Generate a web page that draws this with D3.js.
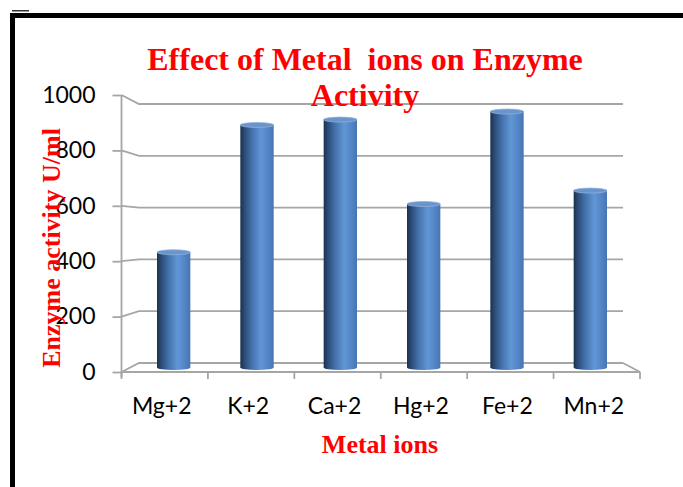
<!DOCTYPE html>
<html>
<head>
<meta charset="utf-8">
<script src="https://cdn.jsdelivr.net/npm/d3@7/dist/d3.min.js"></script>
<style>
  html, body { margin: 0; padding: 0; background: #fff; }
  svg { display: block; }
  text { white-space: pre; }
</style>
</head>
<body>
<div id="chart"></div>
<script>
// Enzyme activity (U/ml) measured with each metal ion
const categories = ["Mg+2", "K+2", "Ca+2", "Hg+2", "Fe+2", "Mn+2"];
const activity = [430, 905, 925, 610, 955, 660];
const yTicks = [0, 200, 400, 600, 800, 1000];
const titleLines = ["Effect of Metal  ions on Enzyme", "Activity"];
const yTitle = "Enzyme activity U/ml";
const xTitle = "Metal ions";

const W = 683, H = 487;
const svg = d3.select("#chart").append("svg")
  .attr("width", W).attr("height", H);

// Frame around the chart area
svg.append("rect").attr("x", 10).attr("y", 13).attr("width", 5).attr("height", H - 13).attr("fill", "#000");
svg.append("rect").attr("x", 10).attr("y", 13).attr("width", W - 10).attr("height", 5).attr("fill", "#000");
svg.append("rect").attr("x", 12).attr("y", 10).attr("width", 17).attr("height", 1.5).attr("fill", "#333");

// 3-D projection: front plane, back wall and the bar's middle depth
const yFront = d3.scaleLinear().domain([0, 1000]).range([372, 95]);
const yBack  = d3.scaleLinear().domain([0, 1000]).range([363, 104]);
const yMid   = d3.scaleLinear().domain([0, 1000]).range([367.5, 99.5]);
const xFront = d3.scaleBand().domain(categories).range([121.5, 640]);
const xBack  = d3.scaleBand().domain(categories).range([139, 623]);
const xMid   = d3.scaleBand().domain(categories).range([132, 632])
  .paddingInner(0.6).paddingOuter(0.3);

const grid = svg.append("g").attr("fill", "none").attr("stroke", "#a6a6a6").attr("stroke-width", 1.8);

// Gridlines: side wall diagonal, then along the back wall
yTicks.forEach(v => {
  grid.append("path").attr("d",
    `M${xFront.range()[0]},${yFront(v)} L${xBack.range()[0]},${yBack(v)} L${xBack.range()[1]},${yBack(v)}`);
});
// Floor front edge and right diagonal
grid.append("path").attr("d",
  `M${xFront.range()[0]},${yFront(0)} L${xFront.range()[1]},${yFront(0)} L${xBack.range()[1]},${yBack(0)}`);

// Vertical axis with tick labels
const yAxis = d3.axisLeft(yFront).tickValues(yTicks).tickSize(9).tickSizeOuter(0).tickPadding(17)
  .tickFormat(d3.format("d"));
const yg = svg.append("g").attr("transform", `translate(${xFront.range()[0]},0)`).call(yAxis);
yg.select(".domain").attr("stroke", "#a6a6a6").attr("stroke-width", 1.8)
  .attr("d", `M0,${yFront(1000)}V${yFront(0) + 5}`);
yg.selectAll(".tick line").attr("stroke", "#a6a6a6").attr("stroke-width", 1.8);
yg.selectAll(".tick text").attr("fill", "#000")
  .style("font-family", "Lato, 'Open Sans', sans-serif").style("font-size", "23px");

// Category boundary ticks on the front floor edge
const bounds = categories.map(c => xFront(c)).concat([xFront.range()[1]]);
svg.append("g").selectAll("line").data(bounds).join("line")
  .attr("x1", d => d).attr("x2", d => d)
  .attr("y1", yFront(0)).attr("y2", yFront(0) + 7)
  .attr("stroke", "#a6a6a6").attr("stroke-width", 1.8);

// Category labels
svg.append("g").selectAll("text").data(categories).join("text")
  .attr("x", d => xFront(d) + xFront.bandwidth() / 2 - 3)
  .attr("y", 414)
  .attr("text-anchor", "middle")
  .style("font-family", "Lato, 'Open Sans', sans-serif").style("font-size", "23px")
  .attr("fill", "#000")
  .text(d => d);

// Cylinder shading
const defs = svg.append("defs");
const grad = defs.append("linearGradient").attr("id", "cyl").attr("x1", "0").attr("x2", "1").attr("y1", "0").attr("y2", "0");
[[0, "#1c304d"], [0.12, "#2b4a75"], [0.35, "#4472ad"], [0.62, "#6196d6"], [0.85, "#5283c3"], [1, "#4675b2"]]
  .forEach(([o, c]) => grad.append("stop").attr("offset", o).attr("stop-color", c));

const bars = svg.append("g").selectAll("g").data(categories.map((c, i) => ({ c, v: activity[i] }))).join("g");
const ry = 2.5;
bars.append("ellipse")
  .attr("cx", d => xMid(d.c) + xMid.bandwidth() / 2).attr("cy", yMid(0))
  .attr("rx", xMid.bandwidth() / 2).attr("ry", ry).attr("fill", "url(#cyl)");
bars.append("rect")
  .attr("x", d => xMid(d.c)).attr("y", d => yMid(d.v))
  .attr("width", xMid.bandwidth()).attr("height", d => yMid(0) - yMid(d.v))
  .attr("fill", "url(#cyl)");
bars.append("ellipse")
  .attr("cx", d => xMid(d.c) + xMid.bandwidth() / 2).attr("cy", d => yMid(d.v))
  .attr("rx", xMid.bandwidth() / 2).attr("ry", ry)
  .attr("fill", "#6a95cc").attr("stroke", "#8fb0dc").attr("stroke-width", 0.8);

// Titles
const serif = "'Liberation Serif', 'Times New Roman', serif";
svg.append("g").selectAll("text").data(titleLines).join("text")
  .attr("x", 365).attr("y", (d, i) => 70 + i * 36)
  .attr("text-anchor", "middle")
  .style("font-family", serif).style("font-weight", "bold").style("font-size", "32px")
  .attr("fill", "#ff0000")
  .text(d => d);

svg.append("text")
  .attr("transform", "translate(60,248) rotate(-90)")
  .attr("text-anchor", "middle")
  .style("font-family", serif).style("font-weight", "bold").style("font-size", "26px")
  .attr("fill", "#ff0000")
  .text(yTitle);

svg.append("text")
  .attr("x", 380).attr("y", 453)
  .attr("text-anchor", "middle")
  .style("font-family", serif).style("font-weight", "bold").style("font-size", "26px")
  .attr("fill", "#ff0000")
  .text(xTitle);
</script>
</body>
</html>
